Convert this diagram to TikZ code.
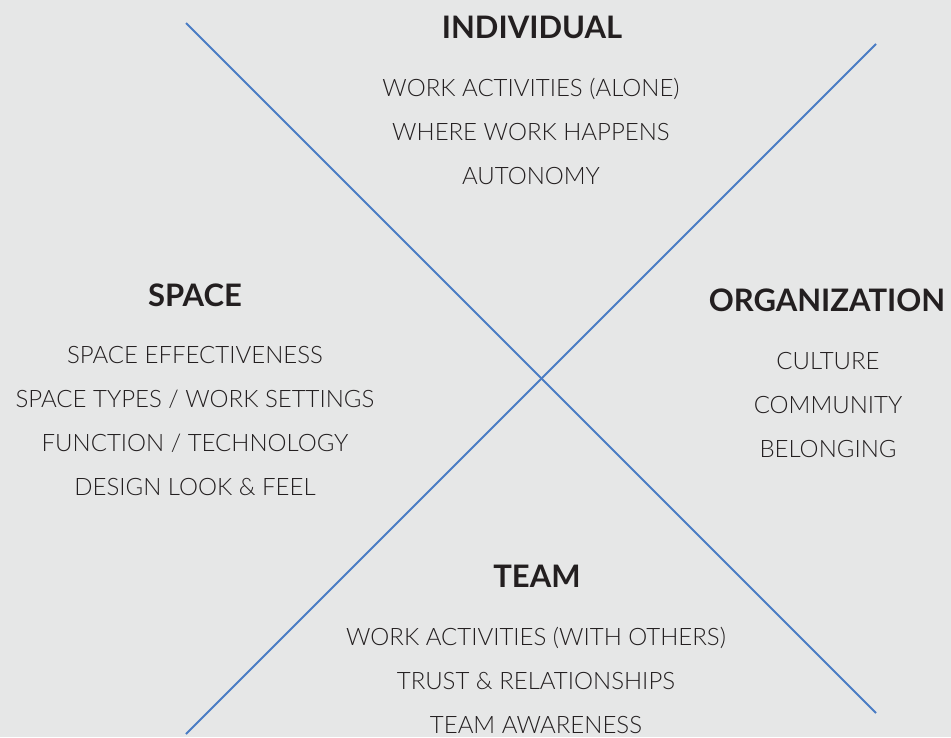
\documentclass[tikz,border=0pt]{standalone}
\usepackage{fontspec}
\setmainfont{Lato}
\newfontfamily\lightfont{Lato Light}
\usepackage{tikz}

\definecolor{bg}{HTML}{E6E7E7}
\definecolor{axis}{HTML}{4A7CC4}
\definecolor{ink}{HTML}{231F20}

\tikzset{
    head/.style={anchor=base, text=ink, font=\fontsize{31}{31}\selectfont\bfseries},
    item/.style={anchor=base, text=ink, font=\fontsize{24}{24}\selectfont\lightfont}
}

\begin{document}
\begin{tikzpicture}[x=1pt,y=-1pt]

\fill[bg] (0,0) rectangle (951,737);
\useasboundingbox (0,0) rectangle (951,737);

\coordinate (nw) at (186,23);
\coordinate (se) at (876,713);
\coordinate (ne) at (876,44);
\coordinate (sw) at (186,734);

\draw[axis, line width=2pt] (nw) -- (se);
\draw[axis, line width=2pt] (ne) -- (sw);

% top
\node[head] (individual) at (532,38) {INDIVIDUAL};
\foreach \t [count=\i] in {WORK ACTIVITIES (ALONE), WHERE WORK HAPPENS, AUTONOMY}
    \node[item] (individual-\i) at (531,52+44*\i) {\t};

% left
\node[head] (space) at (195,306) {SPACE};
\foreach \t [count=\i] in {SPACE EFFECTIVENESS, SPACE TYPES / WORK SETTINGS, FUNCTION / TECHNOLOGY, DESIGN LOOK \& FEEL}
    \node[item] (space-\i) at (195,319+44*\i) {\t};

% right
\node[head] (organization) at (827,311) {ORGANIZATION};
\foreach \t [count=\i] in {CULTURE, COMMUNITY, BELONGING}
    \node[item] (organization-\i) at (828,325+44*\i) {\t};

% bottom
\node[head] (team) at (537,587) {TEAM};
\foreach \t [count=\i] in {WORK ACTIVITIES (WITH OTHERS), TRUST \& RELATIONSHIPS, TEAM AWARENESS}
    \node[item] (team-\i) at (536,601+44*\i) {\t};

\end{tikzpicture}
\end{document}
